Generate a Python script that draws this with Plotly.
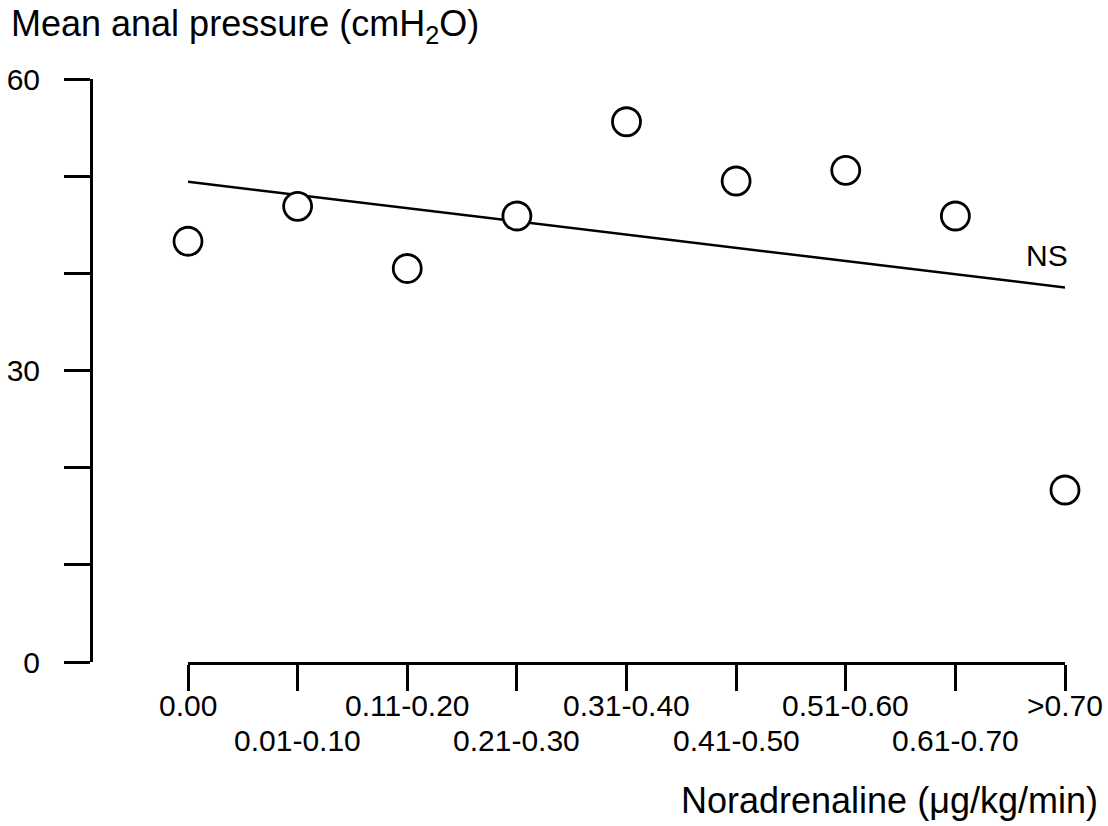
import numpy as np
import plotly.graph_objects as go

# Noradrenaline dose bands (µg/kg/min) and mean anal pressure (cmH2O)
dose_bands = ["0.00", "0.01-0.10", "0.11-0.20", "0.21-0.30", "0.31-0.40",
              "0.41-0.50", "0.51-0.60", "0.61-0.70", ">0.70"]
mean_pressure = [43.3, 46.9, 40.5, 45.9, 55.6, 49.5, 50.6, 45.9, 17.7]

y_label_vals = [0, 30, 60]
y_label_text = ["0", "30", "60"]
y_minor_step = 10

FONT = "Arial, Liberation Sans, sans-serif"
W, H = 1108, 826
M_L, M_R, M_T, M_B = 91, 43, 79, 164

x_pos = np.arange(len(dose_bands))

# least-squares trend across the dose bands
slope, intercept = np.polyfit(x_pos, mean_pressure, 1)
fit_x = np.array([x_pos[0], x_pos[-1]])
fit_y = intercept + slope * fit_x

fig = go.Figure()
fig.add_trace(go.Scatter(
    x=fit_x, y=fit_y, mode="lines",
    line=dict(color="black", width=2.5),
    cliponaxis=False, showlegend=False, hoverinfo="skip",
))
fig.add_trace(go.Scatter(
    x=x_pos, y=mean_pressure, mode="markers",
    marker=dict(symbol="circle", size=28, color="white",
                line=dict(color="black", width=2.8)),
    cliponaxis=False, showlegend=False,
))

plot_w = W - M_L - M_R
x_start = (188 - M_L) / plot_w

annotations = []
# staggered category labels below the axis
for i, lab in enumerate(dose_bands):
    annotations.append(dict(
        x=x_pos[i], y=0, xref="x", yref="y", text=lab, showarrow=False,
        xanchor="center", yanchor="middle",
        yshift=-43 if i % 2 == 0 else -78,
        font=dict(family=FONT, size=30, color="black"),
    ))

annotations.append(dict(
    x=1, y=0, xref="paper", yref="y", text="Noradrenaline (\u03bcg/kg/min)",
    showarrow=False, xanchor="right", yanchor="middle", xshift=35, yshift=-138,
    font=dict(family=FONT, size=36, color="black"),
))
annotations.append(dict(
    x=0, y=1, xref="paper", yref="paper",
    text="Mean anal pressure (cmH<sub>2</sub>O)",
    showarrow=False, xanchor="left", yanchor="middle", xshift=-82, yshift=79 - 26,
    font=dict(family=FONT, size=36, color="black"),
))
annotations.append(dict(
    x=x_pos[-1], y=0, xref="x", yref="y", text="NS", showarrow=False,
    xanchor="center", yanchor="middle", xshift=1047 - 1065, yshift=662 - 255,
    font=dict(family=FONT, size=30, color="black"),
))

fig.update_layout(
    width=W, height=H,
    margin=dict(l=M_L, r=M_R, t=M_T, b=M_B, autoexpand=False),
    plot_bgcolor="white", paper_bgcolor="white",
    font=dict(family=FONT, size=30, color="black"),
    xaxis=dict(
        domain=[x_start, 1], range=[0, len(dose_bands) - 1],
        automargin=False,
        showgrid=False, zeroline=False,
        showline=True, linecolor="black", linewidth=3,
        tickmode="array", tickvals=list(x_pos),
        ticks="outside", ticklen=26, tickwidth=3, tickcolor="black",
        showticklabels=False,
    ),
    yaxis=dict(
        anchor="free", position=0, range=[0, 60],
        automargin=False,
        showgrid=False, zeroline=False,
        showline=True, linecolor="black", linewidth=3,
        tickmode="array", tickvals=y_label_vals, ticktext=y_label_text,
        ticks="outside", ticklen=26, tickwidth=3, tickcolor="black",
        minor=dict(ticks="outside", ticklen=26, tickwidth=3, tickcolor="black",
                   tickmode="linear", tick0=0, dtick=y_minor_step, showgrid=False),
        tickfont=dict(family=FONT, size=30, color="black"),
        ticklabelstandoff=18,
    ),
    annotations=annotations,
)

fig.write_html("out.html")
